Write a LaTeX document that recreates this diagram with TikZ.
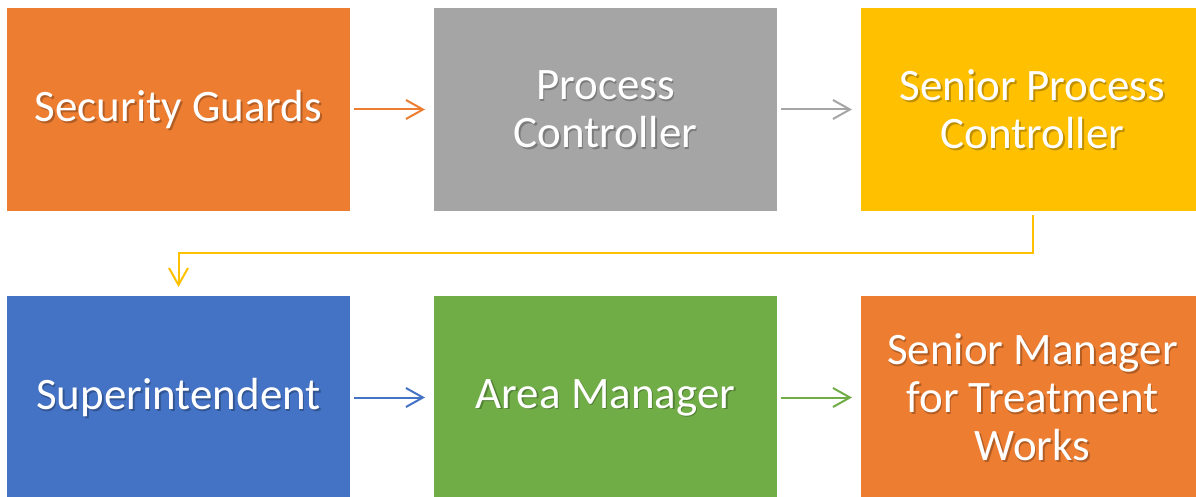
\documentclass[tikz,border=0pt]{standalone}
\usepackage{fontspec}
\setmainfont{Carlito}
\usetikzlibrary{arrows.meta,calc}
\definecolor{cOrange}{HTML}{ED7D31}
\definecolor{cGray}{HTML}{A5A5A5}
\definecolor{cYellow}{HTML}{FFC000}
\definecolor{cBlue}{HTML}{4472C4}
\definecolor{cGreen}{HTML}{70AD47}
\newcommand{\boxlabel}[2]{%
  \node[shd] at ($(#1)+(1.5,1.8)$) {#2};
  \node[txt] at (#1) {#2};}
\begin{document}
\begin{tikzpicture}[x=1pt,y=-1pt,
  box/.style={minimum width=343pt,minimum height=203pt,inner sep=0pt,outer sep=0pt,draw=none,anchor=north west},
  txt/.style={text=white,font=\fontsize{45}{48}\selectfont,align=center,inner sep=0pt},
  shd/.style={text=black,text opacity=0.25,font=\fontsize{45}{48}\selectfont,align=center,inner sep=0pt},
  arr/.style={line width=2pt,-{Straight Barb[length=17pt,width=19pt,line width=2pt]}}
]
\useasboundingbox (0,0) rectangle (1196,497);
\clip (0,0) rectangle (1196,497);
\node[box,fill=cOrange] (b1) at (7,8) {};
\node[box,fill=cGray] (b2) at (434,8) {};
\node[box,fill=cYellow] (b3) at (861,8) {};
\node[box,fill=cBlue] (b4) at (7,296) {};
\node[box,fill=cGreen] (b5) at (434,296) {};
\node[box,fill=cOrange] (b6) at (861,296) {};
\boxlabel{b1}{Security Guards}
\boxlabel{b2}{Process\\Controller}
\boxlabel{b3}{Senior Process\\Controller}
\boxlabel{b4}{Superintendent}
\boxlabel{b5}{Area Manager}
\boxlabel{b6}{Senior Manager\\for Treatment\\Works}
\draw[arr,cOrange,shorten <=4pt,shorten >=9pt] (b1.east) -- (b2.west);
\draw[arr,cGray,shorten <=4pt,shorten >=9pt] (b2.east) -- (b3.west);
\coordinate (m) at ($(b3.south)+(0,42)$);
\draw[arr,cYellow,line join=miter,shorten <=4pt,shorten >=9pt] (b3.south) -- (m) -| (b4.north);
\draw[arr,cBlue,shorten <=4pt,shorten >=9pt] (b4.east) -- (b5.west);
\draw[arr,cGreen,shorten <=4pt,shorten >=9pt] (b5.east) -- (b6.west);
\end{tikzpicture}
\end{document}
